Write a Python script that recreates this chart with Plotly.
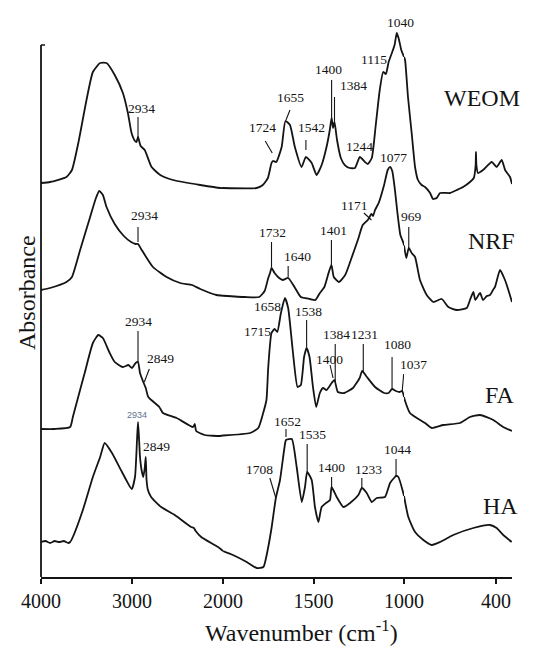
import numpy as np
import plotly.graph_objects as go
from plotly.subplots import make_subplots

# ---------------- data (wavenumber cm-1, stacked absorbance a.u.) ----------------
weom_wn = [4000, 3900, 3720, 3660, 3590, 3500, 3430, 3350, 3280, 3190, 3100, 3045, 3005, 2967, 2950, 2934,
           2905, 2860, 2785, 2690, 2550, 2250, 2030, 1815, 1780, 1752, 1732, 1724, 1706, 1676, 1655, 1630,
           1603, 1566, 1542, 1510, 1483, 1455, 1428, 1410, 1400, 1392, 1384, 1370, 1349, 1327, 1300, 1271,
           1244, 1216, 1200, 1178, 1156, 1134, 1115, 1100, 1085, 1065, 1052, 1040, 1030, 1015, 993, 974,
           950, 928, 909, 885, 863, 830, 811, 787, 765, 700, 656, 615, 570, 545, 533, 531, 528, 518, 485,
           428, 396, 363, 341, 309, 296]
weom_abs = [3.94, 3.95, 4.00, 4.07, 4.34, 4.77, 5.05, 5.14, 5.14, 5.02, 4.84, 4.64, 4.44, 4.36, 4.35, 4.40,
            4.31, 4.27, 4.10, 4.02, 3.97, 3.92, 3.89, 3.89, 3.92, 3.99, 4.14, 4.16, 4.15, 4.30, 4.56, 4.52,
            4.30, 4.10, 4.20, 4.14, 4.02, 4.12, 4.30, 4.47, 4.59, 4.49, 4.55, 4.37, 4.19, 4.12, 4.09, 4.09,
            4.20, 4.15, 4.13, 4.19, 4.52, 4.87, 5.05, 5.03, 5.15, 5.25, 5.32, 5.44, 5.39, 5.27, 5.17, 4.80,
            4.44, 4.10, 3.97, 3.92, 3.90, 3.84, 3.78, 3.79, 3.84, 3.84, 3.87, 3.90, 3.95, 3.99, 4.12, 4.25,
            4.12, 4.04, 4.07, 4.15, 4.10, 4.17, 4.07, 4.00, 3.93]

nrf_wn = [4000, 3900, 3720, 3660, 3570, 3460, 3400, 3360, 3320, 3280, 3190, 3090, 3010, 2960, 2934, 2900,
          2770, 2620, 2470, 2340, 2250, 2070, 1880, 1800, 1770, 1750, 1740, 1732, 1715, 1690, 1670, 1640,
          1605, 1570, 1520, 1490, 1465, 1440, 1420, 1401, 1388, 1360, 1325, 1290, 1255, 1228, 1200, 1180,
          1171, 1160, 1140, 1110, 1090, 1077, 1065, 1050, 1038, 1020, 1003, 985, 969, 950, 928, 896, 852,
          809, 754, 711, 656, 591, 570, 548, 535, 504, 485, 460, 439, 420, 407, 374, 350, 330, 310, 296]
nrf_abs = [2.87, 2.89, 2.95, 3.00, 3.27, 3.60, 3.78, 3.86, 3.82, 3.70, 3.53, 3.41, 3.35, 3.33, 3.33, 3.28,
           3.10, 3.00, 2.94, 2.92, 2.88, 2.82, 2.80, 2.80, 2.86, 2.99, 3.04, 3.09, 3.04, 2.99, 2.97, 2.99,
           2.90, 2.80, 2.78, 2.77, 2.84, 2.90, 3.02, 3.12, 3.00, 2.95, 3.02, 3.19, 3.37, 3.52, 3.57, 3.63,
           3.61, 3.67, 3.74, 3.92, 4.07, 4.10, 4.06, 3.87, 3.67, 3.42, 3.34, 3.19, 3.29, 3.24, 3.20, 2.97,
           2.82, 2.75, 2.78, 2.70, 2.67, 2.69, 2.77, 2.85, 2.77, 2.84, 2.77, 2.81, 2.82, 2.87, 2.90, 3.07,
           3.00, 2.92, 2.82, 2.75]

fa_wn = [4000, 3850, 3680, 3650, 3600, 3520, 3430, 3370, 3320, 3250, 3190, 3100, 3040, 3000, 2960, 2934,
         2912, 2876, 2849, 2821, 2700, 2660, 2510, 2330, 2310, 2295, 2200, 2030, 1850, 1805, 1778, 1760,
         1750, 1732, 1715, 1700, 1680, 1658, 1640, 1615, 1588, 1570, 1552, 1538, 1522, 1503, 1485, 1465,
         1447, 1428, 1400, 1384, 1366, 1330, 1282, 1245, 1231, 1205, 1160, 1110, 1085, 1066, 1045, 1025,
         1010, 995, 961, 917, 863, 819, 744, 635, 570, 504, 418, 353, 296]
fa_abs = [1.48, 1.48, 1.50, 1.60, 1.77, 2.04, 2.34, 2.42, 2.39, 2.25, 2.15, 2.10, 2.12, 2.09, 2.14, 2.15,
          2.04, 1.95, 1.89, 1.80, 1.70, 1.64, 1.59, 1.50, 1.53, 1.46, 1.42, 1.41, 1.44, 1.49, 1.64, 1.77,
          2.10, 2.44, 2.48, 2.45, 2.64, 2.79, 2.69, 2.27, 1.90, 1.92, 2.20, 2.29, 2.20, 1.90, 1.70, 1.84,
          1.89, 1.87, 1.94, 1.97, 1.85, 1.84, 1.89, 1.99, 2.06, 2.00, 1.90, 1.84, 1.84, 1.88, 1.86, 1.85,
          1.86, 1.77, 1.64, 1.59, 1.54, 1.49, 1.52, 1.54, 1.60, 1.62, 1.57, 1.50, 1.46]

ha_wn = [4000, 3950, 3900, 3850, 3800, 3750, 3700, 3680, 3650, 3540, 3430, 3350, 3300, 3220, 3110, 3003,
         2967, 2945, 2934, 2922, 2912, 2895, 2876, 2860, 2849, 2840, 2825, 2790, 2680, 2530, 2350, 2320,
         2300, 2240, 2055, 1945, 1869, 1814, 1777, 1750, 1731, 1708, 1685, 1660, 1652, 1620, 1593, 1565,
         1547, 1535, 1510, 1492, 1473, 1455, 1431, 1409, 1400, 1372, 1335, 1298, 1252, 1233, 1206, 1178,
         1151, 1105, 1077, 1050, 1044, 1031, 1004, 972, 928, 874, 819, 765, 679, 548, 439, 396, 353, 298]
ha_abs = [0.35, 0.36, 0.34, 0.36, 0.35, 0.36, 0.34, 0.35, 0.40, 0.67, 1.00, 1.20, 1.34, 1.24, 1.05, 0.88,
          1.00, 1.37, 1.55, 1.37, 1.20, 1.07, 1.00, 1.09, 1.20, 0.97, 0.87, 0.80, 0.70, 0.62, 0.50, 0.49,
          0.46, 0.40, 0.30, 0.22, 0.15, 0.09, 0.10, 0.30, 0.50, 0.79, 0.97, 1.30, 1.37, 1.38, 1.10, 0.75,
          0.90, 1.05, 0.97, 0.70, 0.55, 0.70, 0.74, 0.77, 0.90, 0.80, 0.70, 0.74, 0.82, 0.89, 0.84, 0.75,
          0.79, 0.80, 0.94, 1.00, 1.01, 1.00, 0.84, 0.60, 0.45, 0.37, 0.32, 0.35, 0.42, 0.49, 0.52, 0.49,
          0.42, 0.35]

series_names = ["WEOM", "NRF", "FA", "HA"]
series_wn = [weom_wn, nrf_wn, fa_wn, ha_wn]
series_abs = [weom_abs, nrf_abs, fa_abs, ha_abs]
name_pos = [(493, 4.79), (428, 3.36), (374, 1.82), (368, 0.71)]

tick_vals = [4000, 3000, 2000, 1500, 1000, 400]
tick_text = ["4000", "3000", "2000", "1500", "1000", "400"]

# peak labels: text, wavenumber, absorbance at tip, leader line offset (px) or None, text offset (px)
peak_labels = [
    ("2934", 2934, 4.39, (0, 21), (3, 30)),
    ("1724", 1728, 4.24, (-7, 12), (-10, 26)),
    ("1655", 1652, 4.57, (4, 10), (5, 23)),
    ("1542", 1542, 4.27, (0, 10), (6, 23)),
    ("1400", 1400, 4.57, (0, 40), (-3, 51)),
    ("1384", 1384, 4.54, (0, 26), (19, 38)),
    ("1244", 1244, 4.20, None, (0, 11)),
    ("1115", 1115, 5.05, None, (-9, 13)),
    ("1040", 1040, 5.44, None, (4, 11)),
    ("2934", 2934, 3.35, (0, 15), (6, 27)),
    ("1732", 1732, 3.10, (0, 25), (1, 35)),
    ("1640", 1640, 3.00, (0, 11), (9, 21)),
    ("1401", 1401, 3.12, (0, 25), (2, 35)),
    ("1171", 1180, 3.57, (-7.5, 7), (-17, 15)),
    ("969", 969, 3.27, (0, 23), (3, 34)),
    ("1077", 1077, 4.10, None, (3, 10)),
    ("2934", 2934, 2.14, (0, 32), (0, 42)),
    ("2849", 2865, 1.95, (5, 13), (16, 24)),
    ("1658", 1658, 2.79, None, (-17, -8)),
    ("1715", 1715, 2.48, None, (-17, -2)),
    ("1538", 1538, 2.30, (0, 27), (2, 36)),
    ("1384", 1380, 1.95, (0, 38), (1, 48)),
    ("1400", 1392, 1.99, (-3, 13), (-4, 19)),
    ("1231", 1225, 2.05, (0, 28), (1, 38)),
    ("1080", 1066, 1.87, (0, 33), (5, 46)),
    ("1037", 1010, 1.86, (1.5, 17), (11, 27)),
    ("2849", 2849, 1.20, None, (11, 11)),
    ("1652", 1652, 1.40, (0, 8), (2, 16)),
    ("1535", 1535, 1.05, (0, 28), (5, 38)),
    ("1708", 1708, 0.79, (-6, 20), (-16, 29)),
    ("1400", 1400, 0.90, (0, 10), (0, 20)),
    ("1233", 1233, 0.89, (0, 10), (7, 19)),
    ("1044", 1044, 1.00, (0, 18), (1, 28)),
]
small_label = ("2934", 2934, 1.55, (-1, 7))

# ---------------- figure ----------------
SEGMENTS = [(4000, 2000), (2000, 1000), (1000, 296)]
W, H = 548, 648
L, R, T, B = 41, 36, 10, 71
PW, PH = W - L - R, H - T - B
FONT = "Liberation Serif, Times New Roman, serif"
INK = "#141414"

fig = make_subplots(rows=1, cols=3, shared_yaxes=True, horizontal_spacing=0,
                    column_widths=[182, 181, 108])


def axis_of(w):
    if w > 2000:
        return "x"
    if w > 1000:
        return "x2"
    return "x3"


def split(wn, ab):
    wn = np.asarray(wn, float)
    ab = np.asarray(ab, float)
    order = np.argsort(wn)
    parts = []
    for hi, lo in SEGMENTS:
        m = (wn <= hi) & (wn >= lo)
        xs, ys = list(wn[m]), list(ab[m])
        for b in (hi, lo):
            if b not in xs and wn.min() <= b <= wn.max():
                xs.append(b)
                ys.append(float(np.interp(b, wn[order], ab[order])))
        idx = np.argsort(xs)[::-1]
        parts.append(([xs[i] for i in idx], [ys[i] for i in idx]))
    return parts


for name, wn, ab in zip(series_names, series_wn, series_abs):
    for col, (xs, ys) in enumerate(split(wn, ab), start=1):
        fig.add_trace(go.Scatter(x=xs, y=ys, mode="lines", name=name, showlegend=False,
                                 line=dict(color=INK, width=1.8, shape="spline", smoothing=0.5),
                                 hoverinfo="skip"),
                      row=1, col=col)

d1 = 182 / PW
d2 = 363 / PW
axis_common = dict(showline=True, linecolor=INK, linewidth=1.8, ticks="outside", ticklen=5,
                   tickwidth=1.5, tickcolor=INK, showgrid=False, zeroline=False,
                   tickfont=dict(family=FONT, size=20, color=INK))
yaxis_common = dict(range=[0, PH / 100], showline=False, showticklabels=False, ticks="",
                    showgrid=False, zeroline=False)
fig.update_layout(
    xaxis=dict(domain=[0, d1], range=[4000, 2000], tickvals=tick_vals[:2], ticktext=tick_text[:2], **axis_common),
    xaxis2=dict(domain=[d1, d2], range=[2000, 1000], tickvals=tick_vals[2:4], ticktext=tick_text[2:4], **axis_common),
    xaxis3=dict(domain=[d2, 1], range=[1000, 296], tickvals=tick_vals[4:], ticktext=tick_text[4:], **axis_common),
    yaxis=yaxis_common, yaxis2=yaxis_common, yaxis3=yaxis_common,
    width=W, height=H, margin=dict(l=L, r=R, t=T, b=B),
    paper_bgcolor="white", plot_bgcolor="white", showlegend=False,
)

# y axis line (ends below the plot top) with a small cap tick
ytop = (H - B - 45) / PH
fig.add_shape(type="line", xref="paper", yref="paper", x0=0, x1=0, y0=0, y1=ytop,
              line=dict(color=INK, width=1.8))
fig.add_shape(type="line", xref="paper", yref="paper", x0=0, x1=4 / PW, y0=ytop, y1=ytop,
              line=dict(color=INK, width=1.5))

annotations = []
for text, w, a, line, (tdx, tdy) in peak_labels:
    ax = axis_of(w)
    if line is not None:
        fig.add_shape(type="line", xref=ax, yref="y", xsizemode="pixel", ysizemode="pixel",
                      xanchor=w, yanchor=a, x0=0, y0=0, x1=line[0], y1=line[1],
                      line=dict(color=INK, width=1.1))
    annotations.append(dict(x=w, y=a, xref=ax, yref="y", text=text, showarrow=False,
                            xanchor="center", yanchor="middle",
                            xshift=tdx, yshift=tdy, font=dict(family=FONT, size=13.5, color=INK)))

t, w, a, (tdx, tdy) = small_label
annotations.append(dict(x=w, y=a, xref=axis_of(w), yref="y", text=t, showarrow=False,
                        xanchor="center", yanchor="middle",
                        xshift=tdx, yshift=tdy, font=dict(family="Liberation Sans, Arial, sans-serif",
                                                          size=9, color="#5f7090")))

for name, (w, a) in zip(series_names, name_pos):
    annotations.append(dict(x=w, y=a, xref="x3", yref="y", text=name, showarrow=False,
                            xanchor="center", yanchor="middle",
                            font=dict(family=FONT, size=24, color=INK)))

annotations.append(dict(x=(301 - L) / PW, y=-(H - (H - B)) / PH, xref="paper", yref="paper",
                        xanchor="center", yanchor="bottom", text="Wavenumber (cm<sup>-1</sup>)",
                        showarrow=False, font=dict(family=FONT, size=24, color=INK)))
annotations.append(dict(x=(27 - L) / PW, y=((H - B) - 293) / PH, xref="paper", yref="paper",
                        xanchor="center", yanchor="middle", text="Absorbance", textangle=-90,
                        showarrow=False, font=dict(family=FONT, size=24, color=INK)))

fig.update_layout(annotations=annotations)
fig.write_html("out.html", config={"displayModeBar": False},
               post_script="document.body.style.margin='0';document.body.style.padding='0';")
